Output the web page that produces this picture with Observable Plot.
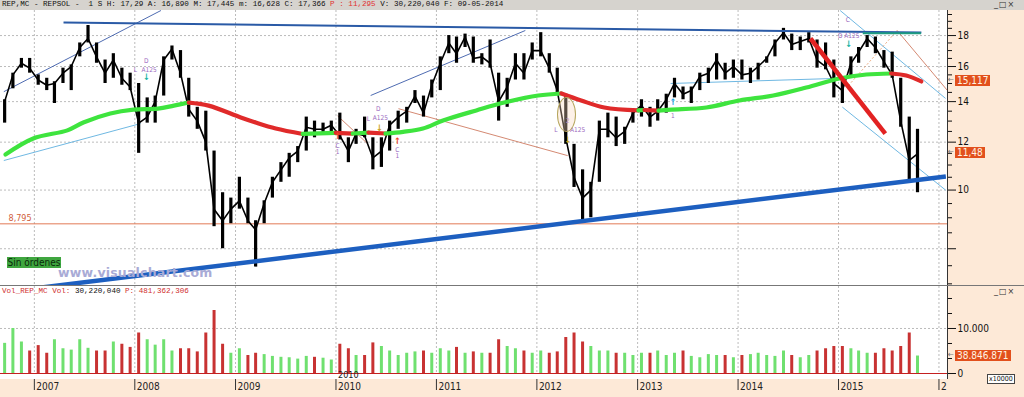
<!DOCTYPE html>
<html><head><meta charset="utf-8">
<script src="https://cdn.jsdelivr.net/npm/d3@7"></script>
<script src="https://cdn.jsdelivr.net/npm/@observablehq/plot@0.6"></script>
<style>
html,body{margin:0;padding:0;width:1024px;height:397px;overflow:hidden;background:#fff;}
#root{position:relative;width:1024px;height:397px;overflow:hidden;}
.mono{font-family:"Liberation Mono","DejaVu Sans Mono",monospace;font-size:7.6px;line-height:9px;white-space:pre;}
</style></head><body><div id="root"></div>
<script>
// ---------------- DATA ----------------
const months = ["2006-09","2006-10","2006-11","2006-12",
 "2007-01","2007-02","2007-03","2007-04","2007-05","2007-06","2007-07","2007-08","2007-09","2007-10","2007-11","2007-12",
 "2008-01","2008-02","2008-03","2008-04","2008-05","2008-06","2008-07","2008-08","2008-09","2008-10","2008-11","2008-12",
 "2009-01","2009-02","2009-03","2009-04","2009-05","2009-06","2009-07","2009-08","2009-09","2009-10","2009-11","2009-12",
 "2010-01","2010-02","2010-03","2010-04","2010-05","2010-06","2010-07","2010-08","2010-09","2010-10","2010-11","2010-12",
 "2011-01","2011-02","2011-03","2011-04","2011-05","2011-06","2011-07","2011-08","2011-09","2011-10","2011-11","2011-12",
 "2012-01","2012-02","2012-03","2012-04","2012-05","2012-06","2012-07","2012-08","2012-09","2012-10","2012-11","2012-12",
 "2013-01","2013-02","2013-03","2013-04","2013-05","2013-06","2013-07","2013-08","2013-09","2013-10","2013-11","2013-12",
 "2014-01","2014-02","2014-03","2014-04","2014-05","2014-06","2014-07","2014-08","2014-09","2014-10","2014-11","2014-12",
 "2015-01","2015-02","2015-03","2015-04","2015-05","2015-06","2015-07","2015-08","2015-09","2015-10"];
const highs = [14.1,15.6,16.5,16.5,
 15.5,15.3,15.1,15.9,16.1,17.5,18.7,17.5,16.4,16.8,15.9,15.6,
 15.0,14.2,14.3,16.6,17.3,17.0,15.3,13.7,13.5,11.6,9.9,9.7,
 10.5,9.7,8.9,9.6,10.5,11.1,11.5,11.8,13.2,13.0,12.9,13.0,
 13.4,12.2,12.6,13.2,12.2,12.2,13.0,13.5,13.7,14.6,14.3,15.2,
 16.6,18.0,17.9,18.1,17.9,16.8,17.7,15.6,15.3,16.8,16.8,17.5,
 18.2,16.8,15.9,14.4,11.9,10.8,10.3,13.0,13.4,13.2,12.7,13.5,
 14.1,13.7,14.1,14.4,15.3,14.8,14.8,15.6,15.9,16.8,16.2,16.4,
 16.4,15.9,16.2,16.6,17.7,18.5,18.1,17.9,18.2,17.7,17.5,16.4,
 15.3,16.6,17.2,18.0,17.9,17.0,16.9,15.3,13.2,12.6];
const lows = [12.9,14.7,15.9,15.6,
 14.9,14.6,13.9,15.0,14.6,16.6,17.5,16.2,15.0,15.3,14.9,14.6,
 11.5,12.9,12.9,14.3,16.4,15.3,13.2,12.6,11.6,8.7,8.0,8.8,
 9.3,8.8,7.46,8.8,9.7,10.3,10.5,11.1,11.6,12.2,12.4,12.4,
 12.1,11.1,11.9,12.2,10.8,10.9,11.6,12.6,12.9,13.9,13.2,14.2,
 14.6,16.8,16.2,17.2,16.2,16.1,15.9,13.0,13.7,15.2,15.2,16.4,
 16.6,15.6,14.4,11.9,10.1,8.9,9.0,10.3,12.2,11.8,11.9,12.9,
 13.2,12.7,13.0,13.4,14.2,14.1,13.9,14.6,15.0,15.2,15.2,15.3,
 15.2,15.0,15.2,16.2,16.6,17.7,17.0,17.0,17.5,15.9,15.8,14.2,
 13.9,15.3,16.2,17.2,16.8,15.9,15.3,12.7,10.4,9.9];
const closes = [14.0,15.5,16.2,15.9,
 15.2,14.9,15.0,15.6,16.0,17.2,17.8,16.6,15.6,16.4,15.3,14.8,
 12.9,13.2,14.0,16.4,17.1,15.6,13.6,13.0,12.0,9.3,8.9,9.3,
 9.6,8.9,8.6,9.5,10.3,10.8,11.3,11.6,12.7,12.6,12.6,12.8,
 12.3,11.6,12.4,12.3,11.3,11.6,12.8,13.2,13.5,14.3,13.4,14.9,
 16.2,17.5,16.8,17.9,16.5,16.6,16.2,14.0,14.8,16.2,15.6,17.0,
 17.0,15.9,14.6,12.2,10.5,9.7,10.0,12.6,12.6,12.2,12.5,13.4,
 13.8,13.2,13.5,14.1,15.0,14.4,14.6,15.4,15.6,16.4,15.6,16.0,
 15.5,15.6,16.0,16.5,17.5,18.2,17.4,17.6,17.8,16.4,16.0,15.0,
 14.6,16.2,16.9,17.8,17.2,16.3,15.5,13.0,11.2,11.48];
// volume in units of 10,000 shares (axis "x10000")
const volumes = [6700,10000,7000,5000,
 6200,4500,7500,5500,5200,7500,5600,5000,5000,7000,6500,5800,
 9000,7500,6300,7500,5000,5500,5500,4800,9000,14000,6500,4500,
 5500,4000,4500,4200,3800,3600,3500,3200,3800,3600,3400,3000,
 6500,5500,4000,4000,6800,6000,5000,4000,4500,4800,5000,4500,
 5500,5000,5800,4500,4800,4500,4500,7500,6000,5500,5000,4500,
 5000,4500,4800,8000,9000,7000,6000,5000,5000,4500,4500,4000,
 4500,4500,5000,4000,4500,5000,3800,3500,4200,4000,4000,3500,
 4000,4200,4500,4000,3800,5000,4000,3500,4000,5000,5500,6000,
 6000,5500,5000,4500,4500,5500,5000,6000,9000,3884.7];
const lastVolumeShares = 38846871;

// moving average
const maDates = ["2006-09-18","2006-12-28","2007-05-01","2007-06-28","2007-10-04","2007-12-27","2008-03-25","2008-05-22","2008-07-15","2008-09-25",
 "2009-01-20","2009-03-15","2009-05-27","2009-09-02","2009-12-31","2010-03-03","2010-04-29","2010-06-30","2010-09-02","2010-11-13",
 "2011-01-25","2011-05-26","2011-09-04","2012-01-06","2012-03-30","2012-06-10","2012-09-02","2013-01-04","2013-01-26","2013-03-18",
 "2013-05-04","2013-09-08","2014-01-06","2014-05-09","2014-09-06","2015-01-04","2015-04-12","2015-07-11","2015-09-04","2015-10-29"];
const maValues = [11.45,12.17,12.55,12.93,13.38,13.58,13.63,13.79,13.95,13.79,
 13.18,12.93,12.64,12.38,12.43,12.40,12.44,12.40,12.48,12.64,
 13.03,13.54,13.95,14.33,14.44,14.06,13.69,13.54,13.56,13.53,
 13.58,13.69,14.06,14.33,14.77,15.29,15.52,15.58,15.46,15.117];

const yearTicks = [2007,2008,2009,2010,2011,2012,2013,2014,2015,2016];
const yearLabels = ["2007","2008","2009","2010","2011","2012","2013","2014","2015","2"];
const priceTicks = [8,10,12,14,16,18];
const priceMinorTicks = [7,7.5,8.5,9,9.5,10.5,11,11.5,12.5,13,13.5,14.5,15,15.5,16.5,17,17.5,18.5,19,19.5];
const volumeTicks = [0,10000];
const volumeMinorTicks = [3333,6667,13333,16667];
const supportLevel = 8.795;

const trendLines = [
 {kind:"navy",  x1:"2006-09-12", y1:14.54, x2:"2008-04-05", y2:19.8},
 {kind:"sky",   x1:"2006-09-12", y1:11.19, x2:"2008-01-22", y2:12.88},
 {kind:"navy",  x1:"2010-05-07", y1:14.33, x2:"2011-11-20", y2:18.35},
 {kind:"salmon",x1:"2010-08-16", y1:13.63, x2:"2012-04-22", y2:11.40},
 {kind:"salmon",x1:"2010-01-07", y1:13.26, x2:"2010-04-25", y2:11.94},
 {kind:"sky",   x1:"2013-05-01", y1:15.0,  x2:"2014-12-21", y2:15.29},
 {kind:"sky",   x1:"2015-01-07", y1:19.8,  x2:"2016-01-25", y2:14.17},
 {kind:"sky",   x1:"2015-01-15", y1:13.71, x2:"2016-01-25", y2:10.0},
 {kind:"salmon",x1:"2015-08-02", y1:18.35, x2:"2016-02-01", y2:14.60},
 {kind:"salmonDash",x1:"2015-02-06", y1:14.88, x2:"2015-08-02", y2:18.35},
 {kind:"resist",x1:"2007-04-17", y1:18.91, x2:"2015-10-29", y2:18.21},
 {kind:"teal",  x1:"2015-03-30", y1:18.16, x2:"2015-10-28", y2:18.16},
 {kind:"support",x1:"2007-01-23", y1:6.90, x2:"2016-01-26", y2:10.53},
 {kind:"red",   x1:"2014-09-21", y1:17.80, x2:"2015-06-20", y2:12.40}
];
// ellipse highlight around the 2012 signal (centre date/value)
const highlight = {date:"2012-04-22", value:13.28};

const notes = [
 {date:"2008-01-03", value:15.82, label:"L", tone:"violet"},
 {date:"2008-02-12", value:16.32, label:"D", tone:"violet"},
 {date:"2008-02-22", value:15.80, label:"A125", tone:"violet"},
 {date:"2008-02-12", value:15.36, label:"↓", tone:"teal"},
 {date:"2010-04-29", value:13.13, label:"L", tone:"violet"},
 {date:"2010-06-04", value:13.60, label:"D", tone:"violet"},
 {date:"2010-06-11", value:13.16, label:"A125", tone:"violet"},
 {date:"2010-06-08", value:12.68, label:"↓", tone:"gold"},
 {date:"2010-01-07", value:12.28, label:"↑", tone:"red"},
 {date:"2010-01-07", value:11.85, label:"C", tone:"violet"},
 {date:"2010-01-07", value:11.56, label:"1", tone:"violet"},
 {date:"2010-08-12", value:12.05, label:"↑", tone:"red"},
 {date:"2010-08-12", value:11.66, label:"C", tone:"violet"},
 {date:"2010-08-12", value:11.38, label:"1", tone:"violet"},
 {date:"2012-04-22", value:13.00, label:"2", tone:"violet"},
 {date:"2012-03-10", value:12.55, label:"L", tone:"violet"},
 {date:"2012-05-28", value:12.55, label:"A125", tone:"violet"},
 {date:"2012-04-22", value:12.10, label:"↓", tone:"gold"},
 {date:"2013-05-09", value:13.95, label:"↑", tone:"cyan"},
 {date:"2013-05-09", value:13.25, label:"1", tone:"violet"},
 {date:"2015-02-04", value:19.1, label:"C", tone:"violet"},
 {date:"2015-02-07", value:18.0, label:"D A125", tone:"violet"},
 {date:"2015-02-07", value:17.40, label:"↓", tone:"teal"}
];

// ---------------- BUILD ----------------
const NARROW = '"Liberation Sans Narrow","DejaVu Sans Condensed","Liberation Sans",sans-serif';
const root = document.getElementById("root");
const parse = s => { const p = s.split("-").map(Number); return new Date(Date.UTC(p[0], p[1]-1, p[2] || 15)); };
const X_DOMAIN = [new Date(Date.UTC(2006,7,31)), new Date(Date.UTC(2016,1,1))];
const PRICE_DOMAIN = [6.956, 19.8];
const VOL_DOMAIN = [0, 19333];
const PLOT_W = 947;
const GREEN = "#3ee43e", RED = "#e02a2a";

const bars = months.map((m,i) => ({date: parse(m), high: highs[i], low: lows[i], close: closes[i],
  vol: volumes[i], up: i === 0 ? true : closes[i] >= closes[i-1]}));
const ma = maDates.map((d,i) => ({date: parse(d), v: maValues[i]}));
const runs = [];
d3.pairs(ma).forEach(([a,b]) => {
  const up = b.v >= a.v;
  let cur = runs[runs.length-1];
  if (!cur || cur.up !== up) { cur = {up, pts:[a]}; runs.push(cur); }
  cur.pts.push(b);
});
const maRunPts = runs.flatMap((r,i) => r.pts.map(p => ({date:p.date, v:p.v, run:i, up:r.up})));
const years = yearTicks.map(y => new Date(Date.UTC(y,0,1)));
const yearRows = years.map((d,i) => ({date:d, label:yearLabels[i]}));
const lines = trendLines.map(d => ({...d, x1: parse(d.x1), x2: parse(d.x2)}));
const noteData = notes.map(d => ({...d, date: parse(d.date)}));

const lineStyle = {
  navy:{stroke:"#3a5aa8", strokeWidth:0.9},
  sky:{stroke:"#5fb0df", strokeWidth:0.9},
  salmon:{stroke:"#cf7c62", strokeWidth:0.9},
  salmonDash:{stroke:"#e9a070", strokeWidth:0.9, strokeDasharray:"2,2"},
  resist:{stroke:"#2a5aa6", strokeWidth:2},
  teal:{stroke:"#1d9c80", strokeWidth:2},
  support:{stroke:"#1d5fc0", strokeWidth:4.5},
  red:{stroke:"#e22222", strokeWidth:4.5}
};
const toneColor = {violet:"#9a68c0", teal:"#19b3a3", gold:"#c9a020", red:"#ee4422", cyan:"#22a8e8"};
const fmtComma = v => String(v).replace(".", ",");

function el(tag, css, html) { const e = document.createElement(tag); e.style.cssText = "position:absolute;" + css; if (html != null) e.innerHTML = html; root.appendChild(e); return e; }
function mount(svg, left, top) { svg.style.position = "absolute"; svg.style.left = left + "px"; svg.style.top = top + "px"; root.appendChild(svg); return svg; }

// backgrounds
el("div", "left:0;top:0;width:1024px;height:10px;background:#d6d3ce;");
el("div", "left:947px;top:10px;width:77px;height:387px;background:#fde9d7;");
el("div", "left:0;top:379px;width:947px;height:18px;background:#fde9d7;");

const baseStyle = {background:"transparent", fontFamily:NARROW, fontSize:"10px", color:"#111"};
const lineMarks = kinds => kinds.flatMap(k => {
  const sub = lines.filter(d => d.kind === k);
  return sub.length ? [Plot.link(sub, {x1:"x1", y1:"y1", x2:"x2", y2:"y2", ...lineStyle[k], clip:true})] : [];
});

// price panel
const priceChart = Plot.plot({
  width:1024, height:275, marginTop:0, marginBottom:0, marginLeft:0, marginRight:77,
  x:{type:"utc", domain:X_DOMAIN, axis:null},
  y:{type:"log", domain:PRICE_DOMAIN, axis:"right", ticks:priceTicks, tickFormat:d => String(d), tickSize:8, tickPadding:2, label:null},
  color:{type:"identity"},
  style:baseStyle,
  marks:[
    Plot.ruleY(priceTicks, {stroke:"#a9a9a9", strokeDasharray:"2,2", strokeWidth:0.8}),
    Plot.ruleX(years, {stroke:"#a9a9a9", strokeDasharray:"2,2", strokeWidth:0.8}),
    Plot.ruleY([supportLevel], {stroke:"#e27a55", strokeWidth:1}),
    Plot.text([supportLevel], {y:d => d, text:d => fmtComma(d), frameAnchor:"left", dx:8, dy:-6, textAnchor:"start", fill:"#d0603a", fontSize:9}),
    ...lineMarks(["navy","sky","salmon","salmonDash"]),
    Plot.ruleX(bars, {x:"date", y1:"low", y2:"high", stroke:"#000", strokeWidth:3.2}),
    Plot.line(bars, {x:"date", y:"close", stroke:"#000", strokeWidth:1.6}),
    Plot.line(maRunPts, {x:"date", y:"v", z:"run", stroke:d => d.up ? GREEN : RED, strokeWidth:4.2, curve:"catmull-rom", strokeLinecap:"round"}),
    ...lineMarks(["resist","teal","support","red"]),
    Plot.text(noteData.filter(d => !"↑↓".includes(d.label)), {x:"date", y:"value", text:"label", fill:d => toneColor[d.tone], fontSize:6.5}),
    Plot.text(noteData.filter(d => "↑↓".includes(d.label)), {x:"date", y:"value", text:"label", fill:d => toneColor[d.tone], fontSize:9, fontWeight:"bold"})
  ]
});
mount(priceChart, 0, 10);
mount(Plot.plot({
  width:1024, height:275, marginTop:0, marginBottom:0, marginLeft:0, marginRight:77,
  y:{type:"log", domain:PRICE_DOMAIN, axis:"right", ticks:priceMinorTicks, tickSize:4, tickFormat:() => "", label:null},
  style:baseStyle,
  marks:[Plot.ruleY(priceMinorTicks, {strokeOpacity:0})]
}), 0, 10);

// volume panel
const volChart = Plot.plot({
  width:1024, height:93, marginTop:0, marginBottom:6, marginLeft:0, marginRight:77,
  x:{type:"utc", domain:X_DOMAIN, axis:null},
  y:{domain:VOL_DOMAIN, axis:"right", ticks:volumeTicks, tickFormat:d => d === 0 ? "0" : d3.format(",")(d).replace(/,/g, "."), tickSize:8, tickPadding:2, label:null},
  style:baseStyle,
  marks:[
    Plot.ruleX(years, {stroke:"#a9a9a9", strokeDasharray:"2,2", strokeWidth:0.8}),
    Plot.ruleY([10000], {stroke:"#a9a9a9", strokeDasharray:"2,2", strokeWidth:0.8}),
    Plot.ruleX(bars.filter(d => d.up), {x:"date", y:"vol", stroke:"#6fe06f", strokeWidth:3}),
    Plot.ruleX(bars.filter(d => !d.up), {x:"date", y:"vol", stroke:"#c83232", strokeWidth:3}),
    Plot.ruleY([0], {stroke:"#c42020", strokeWidth:1.2}),
    Plot.text(yearRows.filter(d => d.label === "2010"), {x:"date", text:"label", frameAnchor:"bottom", dy:4, dx:2, textAnchor:"start", fontSize:9, fill:"#222"})
  ]
});
mount(volChart, 0, 286);
mount(Plot.plot({
  width:1024, height:93, marginTop:0, marginBottom:6, marginLeft:0, marginRight:77,
  y:{domain:VOL_DOMAIN, axis:"right", ticks:volumeMinorTicks, tickSize:4, tickFormat:() => "", label:null},
  style:baseStyle,
  marks:[Plot.ruleY(volumeMinorTicks, {strokeOpacity:0})]
}), 0, 286);

// time axis
mount(Plot.plot({
  width:PLOT_W, height:18, marginTop:0, marginBottom:7, marginLeft:0, marginRight:0,
  x:{type:"utc", domain:X_DOMAIN, axis:null},
  style:baseStyle,
  marks:[
    Plot.ruleX(years, {stroke:"#333", strokeWidth:1}),
    Plot.text(yearRows, {x:"date", text:"label", frameAnchor:"bottom", dy:-1, dx:2, textAnchor:"start", fontSize:10, fill:"#222"})
  ]
}), 0, 379);

// frame lines
el("div", "left:947px;top:10px;width:1px;height:369px;background:#333;");
el("div", "left:0;top:285px;width:1024px;height:1px;background:#777;");

// header texts
el("div", "left:2px;top:0;color:#111;", "REP,MC - REPSOL -  1 S H: 17,29 A: 16,890 M: 17,445 m: 16,628 C: 17,366 <span style='color:#e03030'>P : 11,295</span> V: 30,220,040 F: 09-05-2014").className = "mono";
el("div", "left:2px;top:287px;color:#d03030;", "Vol_REP_MC Vol: <span style='color:#111'>30,220,040</span> P: 481,362,306").className = "mono";
for (const t of [0, 287]) el("div", `left:994px;top:${t}px;font:8px 'DejaVu Sans',sans-serif;color:#333;letter-spacing:1px;`, "_□×");

// scale helpers from the rendered charts
const xSc = priceChart.scale("x");
const xPx = d => (xSc && xSc.apply) ? xSc.apply(d) : d3.scaleUtc(X_DOMAIN, [0, PLOT_W])(d);
const ySc = priceChart.scale("y");
const yPx = v => (ySc && ySc.apply) ? ySc.apply(v) : d3.scaleLog(PRICE_DOMAIN, [275,0])(v);
const vSc = volChart.scale("y");
const vPx = v => (vSc && vSc.apply) ? vSc.apply(v) : d3.scaleLinear(VOL_DOMAIN, [87,0])(v);

// highlight ellipse
{
  const cx = xPx(parse(highlight.date)), cy = 10 + yPx(highlight.value);
  el("div", `left:${cx-10}px;top:${cy-18}px;width:19px;height:35px;border:1px solid #b5a45a;border-radius:50%;background:rgba(250,215,190,0.35);box-sizing:border-box;`);
}

function tag(text, top) {
  el("div", `left:948px;top:${top-6}px;font:8px ${NARROW};color:#777;`, "←");
  el("div", `left:955px;top:${top-6}px;height:11px;line-height:11px;padding:0 2px;background:#e2501c;color:#fff4e4;font:10px ${NARROW};`, text);
}
tag(fmtComma(maValues[maValues.length-1]), 10 + yPx(maValues[maValues.length-1]));
tag(fmtComma(closes[closes.length-1]), 10 + yPx(closes[closes.length-1]));
tag(d3.format(",")(lastVolumeShares).replace(/,/g, "."), 286 + vPx(volumes[volumes.length-1]));
el("div", `left:987px;top:374px;height:8px;line-height:8px;padding:0 1px;border:1px solid #444;font:7px ${NARROW};color:#111;background:#fff;`, "x10000");

// overlays
el("div", `left:7px;top:257px;width:54px;height:11px;line-height:11px;background:#3fa63f;color:#0b2a0b;font:10px ${NARROW};text-align:center;`, "Sin órdenes");
el("div", `left:58px;top:265px;font:bold 12.5px 'DejaVu Sans','Liberation Sans',sans-serif;color:#a9abd6;letter-spacing:0.2px;`, "www.visualchart.com");
</script></body></html>
